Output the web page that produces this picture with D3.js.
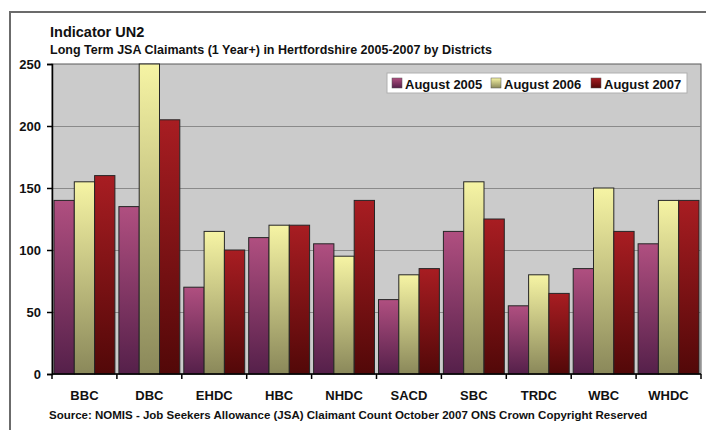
<!DOCTYPE html>
<html>
<head>
<meta charset="utf-8">
<script src="https://cdn.jsdelivr.net/npm/d3@7"></script>
<style>
  body { margin: 0; background: #fff; }
  svg { display: block; font-family: "Liberation Sans", Arial, sans-serif; font-weight: bold; }
</style>
</head>
<body>
<div id="chart"></div>
<script>
// Data
var districts = ["BBC", "DBC", "EHDC", "HBC", "NHDC", "SACD", "SBC", "TRDC", "WBC", "WHDC"];
var seriesNames = ["August 2005", "August 2006", "August 2007"];
var aug2005 = [140, 135, 70, 110, 105, 60, 115, 55, 85, 105];
var aug2006 = [155, 250, 115, 120, 95, 80, 155, 80, 150, 140];
var aug2007 = [160, 205, 100, 120, 140, 85, 125, 65, 115, 140];
var yTicks = [0, 50, 100, 150, 200, 250];

var width = 706,
    height = 430;
var margin = {left: 52, right: 5, top: 64, bottom: 56};
var plotW = 701 - margin.left,
    plotH = 374 - margin.top;

var svg = d3.select("#chart").append("svg")
    .attr("width", width)
    .attr("height", height);

// colour ramps (top -> bottom of each bar)
var ramps = [
    ["#b04f80", "#55204a"],
    ["#f6f4a4", "#8a885a"],
    ["#a81d22", "#520808"]
];
var defs = svg.append("defs");
ramps.forEach(function(r, i) {
    var lg = defs.append("linearGradient")
        .attr("id", "grad" + i)
        .attr("x1", 0).attr("y1", 0).attr("x2", 0).attr("y2", 1);
    lg.append("stop").attr("offset", "0%").attr("stop-color", r[0]);
    lg.append("stop").attr("offset", "100%").attr("stop-color", r[1]);
});

// outer frame
svg.append("path")
    .attr("d", "M10," + (height + 2) + "V12H" + (width + 2))
    .attr("fill", "none")
    .attr("stroke", "#6b6b6b")
    .attr("stroke-width", 2);

// titles
svg.append("text").attr("x", 50).attr("y", 37)
    .style("font-size", "14.5px").attr("fill", "#111")
    .text("Indicator UN2");
svg.append("text").attr("x", 50).attr("y", 54)
    .style("font-size", "12.5px").attr("fill", "#111")
    .text("Long Term JSA Claimants (1 Year+) in Hertfordshire 2005-2007 by Districts");

var g = svg.append("g").attr("transform", "translate(" + margin.left + "," + margin.top + ")");

var x0 = d3.scaleBand().domain(districts).range([0, plotW]).paddingInner(0).paddingOuter(0);
var x1 = d3.scaleBand().domain(d3.range(3)).range([2, x0.bandwidth() - 2]).padding(0);
var y = d3.scaleLinear().domain([0, 250]).range([plotH, 0]);

// plot background
g.append("rect")
    .attr("x", 0).attr("y", 0)
    .attr("width", plotW).attr("height", plotH)
    .attr("fill", "#cbcbcb")
    .attr("stroke", "#5a5a5a").attr("stroke-width", 1);

// gridlines
g.selectAll(".grid").data(yTicks.slice(1, -1)).enter().append("line")
    .attr("x1", 0).attr("x2", plotW)
    .attr("y1", function(d) { return y(d) + 0.5; })
    .attr("y2", function(d) { return y(d) + 0.5; })
    .attr("stroke", "#8a8a8a").attr("stroke-width", 1);

// bars
var series = [aug2005, aug2006, aug2007];
var groups = g.selectAll(".grp").data(districts).enter().append("g")
    .attr("transform", function(d) { return "translate(" + x0(d) + ",0)"; });
groups.selectAll("rect")
    .data(function(d, i) { return series.map(function(s, k) { return {k: k, v: s[i]}; }); })
    .enter().append("rect")
    .attr("x", function(d) { return x1(d.k); })
    .attr("y", function(d) { return y(d.v); })
    .attr("width", x1.bandwidth())
    .attr("height", function(d) { return plotH - y(d.v); })
    .attr("fill", function(d) { return "url(#grad" + d.k + ")"; })
    .attr("stroke", "#262626").attr("stroke-width", 1);

// y axis
var yAxis = g.append("g")
    .call(d3.axisLeft(y).tickValues(yTicks).tickSize(5).tickPadding(6));
yAxis.select(".domain").attr("stroke", "#000").attr("stroke-width", 1.5);
yAxis.selectAll("line").attr("stroke", "#000").attr("stroke-width", 1.5);
yAxis.selectAll("text").style("font-size", "13px").attr("fill", "#111")
    .style("font-family", "Liberation Sans, Arial, sans-serif").style("font-weight", "bold");

// x axis: ticks at category boundaries
var xAxis = g.append("g").attr("transform", "translate(0," + plotH + ")");
xAxis.append("line").attr("x1", 0).attr("x2", plotW)
    .attr("stroke", "#000").attr("stroke-width", 1.5);
xAxis.selectAll(".tk").data(districts.concat([null])).enter().append("line")
    .attr("x1", function(d, i) { return i * x0.step(); })
    .attr("x2", function(d, i) { return i * x0.step(); })
    .attr("y1", 0).attr("y2", 5)
    .attr("stroke", "#000").attr("stroke-width", 1.5);
xAxis.selectAll(".lbl").data(districts).enter().append("text")
    .attr("x", function(d) { return x0(d) + x0.bandwidth() / 2; })
    .attr("y", 25.5)
    .attr("text-anchor", "middle")
    .style("font-size", "13px").attr("fill", "#111")
    .text(function(d) { return d; });

// source
svg.append("text").attr("x", 49).attr("y", 418.5)
    .style("font-size", "11.5px").attr("fill", "#111")
    .text("Source: NOMIS - Job Seekers Allowance (JSA) Claimant Count October 2007 ONS Crown Copyright Reserved");

// legend
var legend = svg.append("g").attr("transform", "translate(387,73)");
legend.append("rect").attr("width", 300).attr("height", 20)
    .attr("fill", "#fff").attr("stroke", "#b0b0b0").attr("stroke-width", 1);
var legX = [5, 104, 204];
seriesNames.forEach(function(name, i) {
    var it = legend.append("g").attr("transform", "translate(" + legX[i] + ",5)");
    it.append("rect").attr("width", 10).attr("height", 10)
        .attr("fill", "url(#grad" + i + ")").attr("stroke", "#555").attr("stroke-width", 0.5);
    it.append("text").attr("x", 13).attr("y", 10.5)
        .style("font-size", "13px").attr("fill", "#111")
        .text(name);
});
</script>
</body>
</html>
